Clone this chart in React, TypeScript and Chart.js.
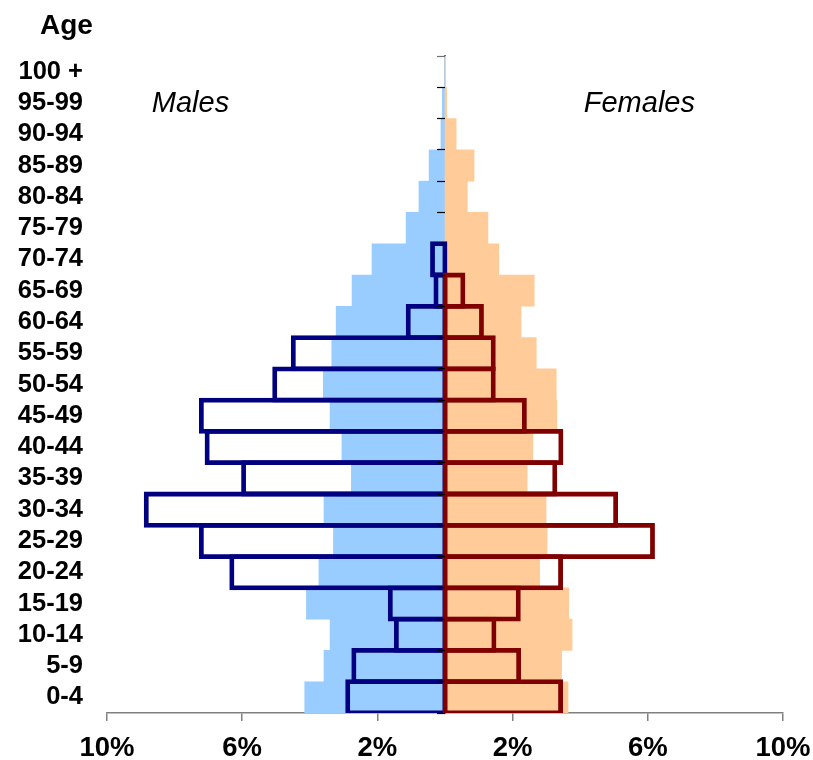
import React, { useEffect, useRef } from 'react';
import { Chart, registerables } from 'chart.js';

Chart.register(...registerables);

// Age groups, listed top to bottom as shown
const ageGroups = [
  '100 +', '95-99', '90-94', '85-89', '80-84', '75-79', '70-74', '65-69', '60-64', '55-59',
  '50-54', '45-49', '40-44', '35-39', '30-34', '25-29', '20-24', '15-19', '10-14', '5-9', '0-4',
];

// Filled (light) bars, % of population
const malesFilled = [
  0.02, 0.08, 0.12, 0.47, 0.77, 1.15, 2.16, 2.75, 3.22, 3.35,
  3.6, 3.4, 3.05, 2.77, 3.58, 3.3, 3.73, 4.1, 3.4, 3.58, 4.15,
];
const femalesFilled = [
  0.02, 0.05, 0.33, 0.86, 0.66, 1.27, 1.59, 2.64, 2.25, 2.7,
  3.29, 3.31, 2.6, 2.43, 2.99, 3.02, 2.8, 3.66, 3.76, 3.45, 3.64,
];

// Outlined bars, % of population
const malesOutlined: (number | null)[] = [
  null, null, null, null, null, null, 0.37, 0.27, 1.09, 4.49,
  5.04, 7.21, 7.04, 5.96, 8.84, 7.21, 6.31, 1.62, 1.44, 2.7, 2.88,
];
const femalesOutlined: (number | null)[] = [
  null, null, null, null, null, null, null, 0.53, 1.08, 1.43,
  1.43, 2.35, 3.43, 3.25, 5.05, 6.14, 3.42, 2.17, 1.45, 2.18, 3.42,
];

const xTickValues = [-10, -6, -2, 2, 6, 10];
const sideLabels = ['Males', 'Females'];
const axisTitle = 'Age';

const FONT = '"Liberation Sans", Arial, sans-serif';
const STROKE = 4.8;

const textPlugin = {
  id: 'pyramidText',
  afterDraw(chart: any) {
    const { ctx } = chart;
    const x = chart.scales.x;
    const y = chart.scales.y;
    ctx.save();
    ctx.fillStyle = '#000';
    ctx.textBaseline = 'alphabetic';
    ctx.textAlign = 'center';
    ctx.font = `italic 29px ${FONT}`;
    const yy = y.getPixelForValue(1) + 9.5;
    ctx.fillText(sideLabels[0], x.getPixelForValue(-7.53), yy);
    ctx.fillText(sideLabels[1], x.getPixelForValue(5.75), yy);
    ctx.font = `bold 28px ${FONT}`;
    ctx.textAlign = 'left';
    ctx.fillText(axisTitle, 40, 33.5);
    ctx.restore();
  },
};

export default function App() {
  const canvasRef = useRef<HTMLCanvasElement | null>(null);

  useEffect(() => {
    if (!canvasRef.current) return;
    const outlineCommon = {
      backgroundColor: 'rgba(0,0,0,0)',
      borderWidth: 0.01,
      borderSkipped: false,
      inflateAmount: STROKE / 2,
      grouped: false,
      barPercentage: 1,
      categoryPercentage: 1,
      xAxisID: 'x',
      yAxisID: 'y',
    };
    const fillCommon = {
      borderWidth: 0,
      grouped: false,
      barPercentage: 1,
      categoryPercentage: 1,
      xAxisID: 'x',
      yAxisID: 'y',
    };
    const zeroWidth = (s: any) => {
      s.width = 0;
    };
    const chart = new Chart(canvasRef.current, {
      type: 'bar',
      data: {
        labels: ageGroups,
        datasets: [
          { ...outlineCommon, label: 'Females outline', data: femalesOutlined, borderColor: '#800000', order: 0 } as any,
          { ...outlineCommon, label: 'Males outline', data: malesOutlined.map((v) => (v == null ? null : -v)), borderColor: '#000080', order: 1 } as any,
          { ...fillCommon, label: 'Females', data: femalesFilled, backgroundColor: '#FFCC99', order: 2 } as any,
          { ...fillCommon, label: 'Males', data: malesFilled.map((v) => -v), backgroundColor: '#99CCFF', order: 3 } as any,
        ],
      },
      options: {
        indexAxis: 'y',
        responsive: true,
        maintainAspectRatio: false,
        animation: false,
        layout: { padding: { top: 56, right: 30, left: 0, bottom: 0 } },
        plugins: { legend: { display: false }, tooltip: { enabled: false } },
        scales: {
          x: {
            type: 'linear',
            min: -10,
            max: 10,
            afterBuildTicks: (s: any) => {
              s.ticks = xTickValues.map((v) => ({ value: v }));
            },
            afterFit: (s: any) => {
              s.height = 47;
            },
            grid: { drawOnChartArea: false, tickLength: 8, color: '#808080', tickColor: '#808080', lineWidth: 1.5 },
            border: { color: '#808080', width: 1.5 },
            ticks: {
              color: '#000',
              padding: 0,
              maxRotation: 0,
              autoSkip: false,
              font: { family: FONT, size: 27.5, weight: 'bold', lineHeight: 2.0 },
              callback: (v: any) => Math.abs(Number(v)) + '%',
            },
          },
          y: {
            type: 'category',
            position: 'left',
            offset: true,
            grid: { display: false, drawTicks: false },
            border: { display: false },
            ticks: { color: '#000', padding: 24, autoSkip: false, font: { family: FONT, size: 25.5, weight: 'bold' } },
            afterFit: (s: any) => {
              s.width = 107;
            },
          },
          // centre axis line (drawn beneath the bars)
          y2: {
            type: 'category',
            axis: 'y',
            position: { x: 0 },
            offset: true,
            grid: { display: false, offset: true, drawOnChartArea: false, drawTicks: false },
            border: { display: true, color: '#707070', width: 2 },
            ticks: { display: false },
            afterFit: zeroWidth,
          } as any,
          // centre axis tick marks (drawn above the bars)
          y3: {
            type: 'category',
            axis: 'y',
            position: { x: 0 },
            offset: true,
            grid: {
              offset: true,
              drawOnChartArea: false,
              tickLength: 8,
              tickColor: (c: any) => (c.index === 0 ? '#707070' : '#000'),
              tickWidth: 1.2,
              z: 1,
            },
            border: { display: false },
            ticks: { display: false },
            afterFit: zeroWidth,
          } as any,
        },
      } as any,
      plugins: [textPlugin],
    });
    return () => chart.destroy();
  }, []);

  return (
    <div style={{ position: 'absolute', left: 0, top: 0, width: 813, height: 760 }}>
      <canvas ref={canvasRef} />
    </div>
  );
}
